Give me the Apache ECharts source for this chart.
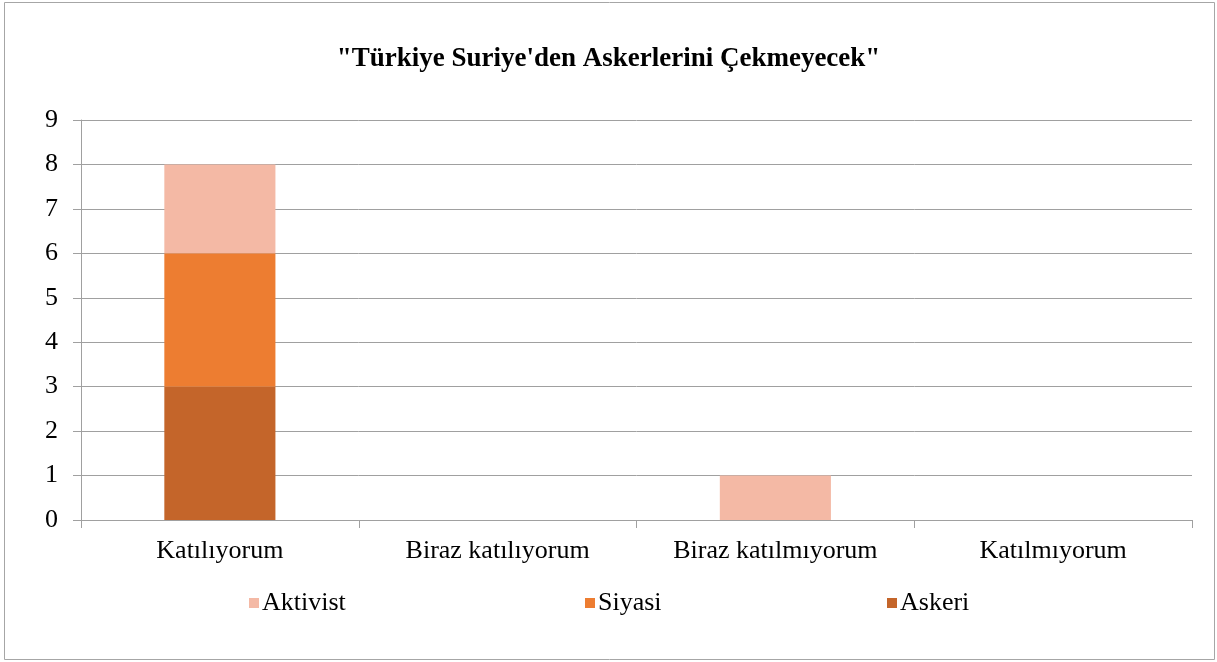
<!DOCTYPE html>
<html><head><meta charset="utf-8">
<script src="https://cdn.jsdelivr.net/npm/echarts@6/dist/echarts.min.js"></script>
<style>html,body{margin:0;padding:0;background:#fff}#c{width:1217px;height:662px}</style>
</head><body><div id="c"></div>
<script>
const titleText = '"Türkiye Suriye\'den Askerlerini Çekmeyecek"';
const categories = ['Katılıyorum', 'Biraz katılıyorum', 'Biraz katılmıyorum', 'Katılmıyorum'];
const askeri = [3, 0, 0, 0];
const siyasi = [3, 0, 0, 0];
const aktivist = [2, 0, 1, 0];
const yTicks = { min: 0, max: 9, interval: 1 };

const FONT = '"Liberation Serif", "Times New Roman", serif';
const FS = 26;
const chart = echarts.init(document.getElementById('c'));
const legendBase = {
  top: 590, itemWidth: 10, itemHeight: 10, icon: 'rect', itemGap: 0, padding: 0,
  textStyle: { fontFamily: FONT, fontSize: FS, color: '#000', padding: [0, 0, 0, -2] },
  selectedMode: false
};
chart.setOption({
  animation: false,
  graphic: [{ type: 'rect', shape: { x: 4.5, y: 2.5, width: 1210, height: 657 }, style: { fill: 'none', stroke: '#a6a6a6', lineWidth: 1 } }],
  title: {
    text: titleText, left: 'center', top: 41,
    textStyle: { fontFamily: FONT, fontSize: 27, fontWeight: 'bold', color: '#000' }
  },
  legend: [
    Object.assign({}, legendBase, { left: 249, data: ['Aktivist'] }),
    Object.assign({}, legendBase, { left: 585, data: ['Siyasi'] }),
    Object.assign({}, legendBase, { left: 887, data: ['Askeri'] })
  ],
  grid: { left: 81, right: 25, top: 120, bottom: 142, containLabel: false },
  xAxis: {
    type: 'category', data: categories,
    axisLine: { lineStyle: { color: '#a0a0a0', width: 1 } },
    axisTick: { show: true, length: 8, lineStyle: { color: '#a0a0a0' } },
    axisLabel: { fontFamily: FONT, fontSize: FS, color: '#000', margin: 18 }
  },
  yAxis: {
    type: 'value', min: yTicks.min, max: yTicks.max, interval: yTicks.interval,
    axisLine: { show: true, lineStyle: { color: '#a0a0a0', width: 1 } },
    axisTick: { show: true, length: 8, lineStyle: { color: '#a0a0a0' } },
    splitLine: { show: true, lineStyle: { color: '#a0a0a0', width: 1 } },
    axisLabel: { fontFamily: FONT, fontSize: FS, color: '#000', margin: 23 }
  },
  series: [
    { name: 'Askeri', type: 'bar', stack: 's', data: askeri, barWidth: '40%', itemStyle: { color: '#C4652A' } },
    { name: 'Siyasi', type: 'bar', stack: 's', data: siyasi, barWidth: '40%', itemStyle: { color: '#ED7D31' } },
    { name: 'Aktivist', type: 'bar', stack: 's', data: aktivist, barWidth: '40%', itemStyle: { color: '#F4B9A5' } }
  ]
});
</script></body></html>
